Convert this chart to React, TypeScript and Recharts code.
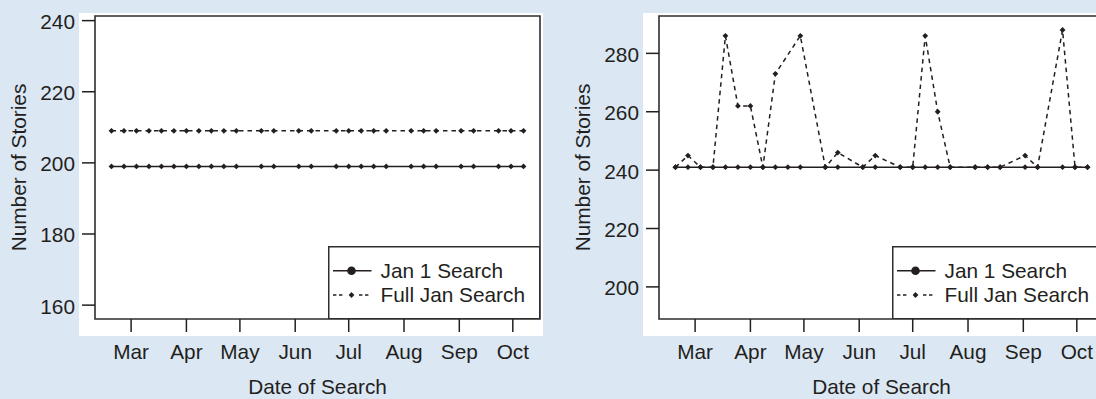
import React from 'react';
import { LineChart, Line, XAxis, YAxis, ReferenceArea, Legend } from 'recharts';

// weekly search dates (some weeks missing)
const DATES = [
  '2009-02-18', '2009-02-25', '2009-03-04', '2009-03-11', '2009-03-18', '2009-03-25',
  '2009-04-01', '2009-04-08', '2009-04-15', '2009-04-22', '2009-04-29', '2009-05-13',
  '2009-05-20', '2009-06-03', '2009-06-10', '2009-06-24', '2009-07-01', '2009-07-08',
  '2009-07-15', '2009-07-22', '2009-08-05', '2009-08-12', '2009-08-19', '2009-09-02',
  '2009-09-09', '2009-09-23', '2009-09-30', '2009-10-07',
];

const MONTH_TICKS = ['2009-03-01', '2009-04-01', '2009-05-01', '2009-06-01', '2009-07-01', '2009-08-01', '2009-09-01', '2009-10-01'];
const MONTH_LABELS = ['Mar', 'Apr', 'May', 'Jun', 'Jul', 'Aug', 'Sep', 'Oct'];

const LEFT_JAN1 = [199, 199, 199, 199, 199, 199, 199, 199, 199, 199, 199, 199, 199, 199, 199, 199, 199, 199, 199, 199, 199, 199, 199, 199, 199, 199, 199, 199];
const LEFT_FULL = [209, 209, 209, 209, 209, 209, 209, 209, 209, 209, 209, 209, 209, 209, 209, 209, 209, 209, 209, 209, 209, 209, 209, 209, 209, 209, 209, 209];

const RIGHT_JAN1 = [241, 241, 241, 241, 241, 241, 241, 241, 241, 241, 241, 241, 241, 241, 241, 241, 241, 241, 241, 241, 241, 241, 241, 241, 241, 241, 241, 241];
const RIGHT_FULL = [241, 245, 241, 241, 286, 262, 262, 241, 273, null, 286, 241, 246, 241, 245, 241, 241, 286, 260, 241, 241, 241, 241, 245, 241, 288, 241, 241];

const SERIES_NAMES = ['Jan 1 Search', 'Full Jan Search'];

const LEFT_Y_TICKS = [160, 180, 200, 220, 240];
const LEFT_Y_DOMAIN = [156.1, 241.3];
const RIGHT_Y_TICKS = [200, 220, 240, 260, 280];
const RIGHT_Y_DOMAIN = [189, 292.8];

const INK = '#231f20';
const FRAME = '#2e2e2e';
const BG = '#dce7f4';
const FONT = '"Liberation Sans", Arial, Helvetica, sans-serif';
const FS = 20.8;
const LW = 1.5;

const monthTs = MONTH_TICKS.map((d) => Date.parse(d));
const dateTs = DATES.map((d) => Date.parse(d));
const tMin = Math.min(...dateTs);
const tMax = Math.max(...dateTs);
const pad = (tMax - tMin) * 0.04;
const X_DOMAIN = [tMin - pad, tMax + pad];

const monthLabel = (v: number) => {
  const i = monthTs.indexOf(v);
  return i >= 0 ? MONTH_LABELS[i] : '';
};

const renderDiamond = (p: any) => {
  const { cx, cy, index } = p;
  if (cx == null || cy == null || isNaN(cy)) return <g key={`n-${index}`} />;
  const r = 2.9;
  return (
    <path
      key={`d-${index}`}
      d={`M${cx},${cy - r}L${cx + r},${cy}L${cx},${cy + r}L${cx - r},${cy}Z`}
      fill={INK}
      stroke="none"
    />
  );
};

const LEG_W = 212.5;
const LEG_H = 73.5;

const LegendBox = () => {
  const rows = [24.7, 49];
  return (
    <svg width={LEG_W} height={LEG_H} style={{ display: 'block' }}>
      <rect x={0.75} y={0.75} width={LEG_W - 1.5} height={LEG_H - 1.5} fill='#fff' stroke={FRAME} strokeWidth={1.5} />
      <line x1={5} x2={43.5} y1={rows[0]} y2={rows[0]} stroke={INK} strokeWidth={LW} />
      <circle cx={23.5} cy={rows[0]} r={4.3} fill={INK} />
      <line x1={5} x2={43.5} y1={rows[1]} y2={rows[1]} stroke={INK} strokeWidth={LW} strokeDasharray='3.4 2.6 3.4 16.6' />
      {renderDiamond({ cx: 23.5, cy: rows[1], index: 'leg' })}
      {SERIES_NAMES.map((n, i) => (
        <text key={n} x={52.5} y={rows[i] + 7.4} fill={INK} fontSize={FS} fontFamily={FONT}>
          {n}
        </text>
      ))}
    </svg>
  );
};

const Panel = ({ jan1, full, yTicks, yDomain, left }: any) => {
  const data = DATES.map((d, i) => ({ t: dateTs[i], jan1: jan1[i], full: full[i] }));
  const textStyle = { fill: INK, fontSize: FS, fontFamily: FONT };
  return (
    <div style={{ position: 'absolute', left, top: 0 }}>
      <LineChart width={560} height={399} data={data} margin={{ top: 16, right: 20, bottom: 0, left: 0 }}>
        <XAxis
          dataKey='t'
          type='number'
          domain={X_DOMAIN}
          allowDataOverflow
          ticks={monthTs}
          interval={0}
          tickFormatter={monthLabel}
          height={80}
          tickSize={13}
          tickMargin={12}
          axisLine={false}
          tickLine={{ stroke: INK, strokeWidth: LW }}
          tick={textStyle}
          label={{ value: 'Date of Search', position: 'insideBottom', offset: 5, ...textStyle }}
        />
        <YAxis
          type='number'
          domain={yDomain}
          allowDataOverflow
          ticks={yTicks}
          interval={0}
          width={95}
          tickSize={13}
          tickMargin={7}
          axisLine={false}
          tickLine={{ stroke: INK, strokeWidth: LW }}
          tick={{ ...textStyle, dy: 1 }}
          label={{ value: 'Number of Stories', angle: -90, position: 'center', dx: -28.8, ...textStyle }}
        />
        <ReferenceArea
          x1={X_DOMAIN[0]}
          x2={X_DOMAIN[1]}
          y1={yDomain[0]}
          y2={yDomain[1]}
          fill='none'
          stroke={FRAME}
          strokeWidth={1.6}
          ifOverflow='visible'
        />
        <Line
          dataKey='jan1'
          name={SERIES_NAMES[0]}
          stroke={INK}
          strokeWidth={LW}
          dot={renderDiamond}
          activeDot={false}
          isAnimationActive={false}
        />
        <Line
          dataKey='full'
          name={SERIES_NAMES[1]}
          stroke={INK}
          strokeWidth={LW}
          strokeDasharray='4.5 4'
          connectNulls
          dot={renderDiamond}
          activeDot={false}
          isAnimationActive={false}
        />
        <Legend
          layout='horizontal'
          verticalAlign='middle'
          align='center'
          content={() => <LegendBox />}
          wrapperStyle={{ left: 327.5, top: 245.5, width: LEG_W, height: LEG_H, margin: 0, padding: 0, lineHeight: 0 }}
        />
      </LineChart>
    </div>
  );
};

const App = () => {
  return (
    <div
      style={{
        position: 'absolute',
        left: 0,
        top: 0,
        width: 1096,
        height: 399,
        overflow: 'hidden',
        background: BG,
        fontFamily: FONT,
      }}
    >
      <div style={{ position: 'absolute', left: 79, top: 13, width: 464, height: 323, background: '#fff' }} />
      <div style={{ position: 'absolute', left: 643, top: 13, width: 460, height: 323, background: '#fff' }} />
      <Panel jan1={LEFT_JAN1} full={LEFT_FULL} yTicks={LEFT_Y_TICKS} yDomain={LEFT_Y_DOMAIN} left={0} />
      <Panel jan1={RIGHT_JAN1} full={RIGHT_FULL} yTicks={RIGHT_Y_TICKS} yDomain={RIGHT_Y_DOMAIN} left={564} />
    </div>
  );
};

export default App;
